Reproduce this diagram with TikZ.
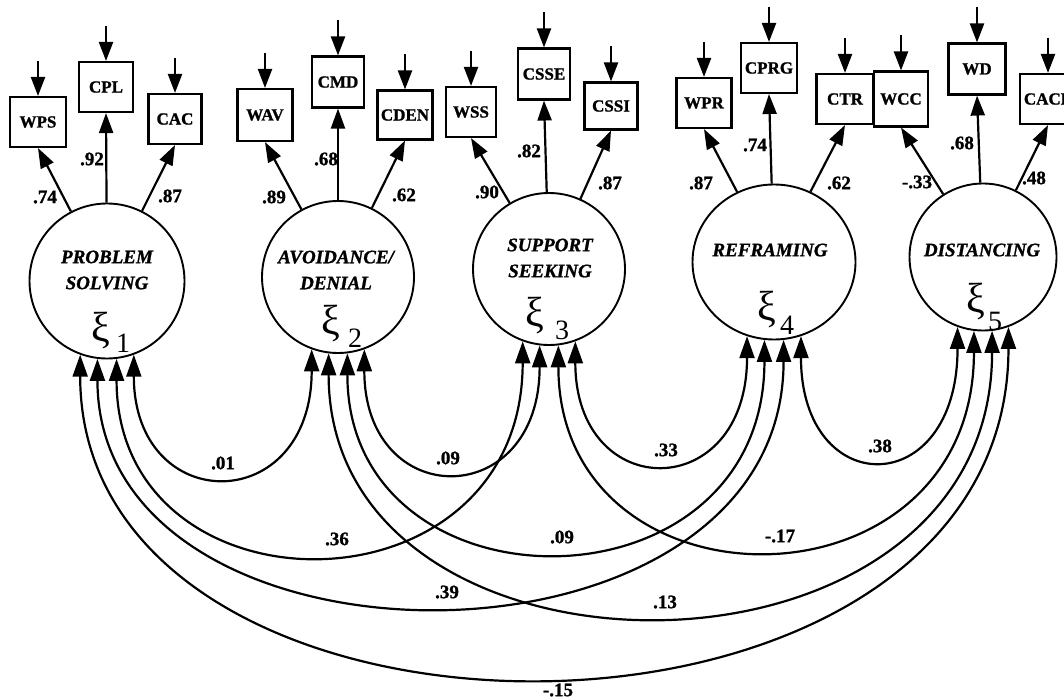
\documentclass[tikz,border=0pt]{standalone}
\usepackage{fontspec}
\setmainfont{Liberation Serif}[BoldFeatures={FakeBold=1.2},BoldItalicFeatures={FakeBold=1.2}]
\usetikzlibrary{arrows.meta,shapes.geometric,calc}
\begin{document}
\begin{tikzpicture}[x=1pt,y=-1pt,
  lat/.style={draw,ellipse,line width=1.9pt,inner sep=0pt},
  obs/.style={draw,rectangle,line width=2.1pt,inner sep=0pt,minimum width=54pt,minimum height=50pt,font=\fontsize{17}{18}\selectfont\bfseries},
  load/.style={line width=2.2pt,-{Triangle[length=20pt,width=14pt]}},
  err/.style={line width=2.2pt,-{Triangle[length=19pt,width=14pt]}},
  cov/.style={line width=2.2pt,{Triangle[length=22pt,width=15pt]}-{Triangle[length=22pt,width=15pt]}},
  num/.style={font=\fontsize{19}{20}\selectfont\bfseries,inner sep=0pt},
  latlab/.style={font=\fontsize{19}{26}\selectfont\bfseries\itshape,align=center,inner sep=0pt},
  xisym/.style={font=\fontsize{42}{44}\selectfont,inner sep=0pt},
  xisub/.style={font=\fontsize{28}{30}\selectfont,inner sep=0pt}]
\useasboundingbox (0,0) rectangle (1064,700);
\clip (0,0) rectangle (1064,700);

% latent variables
\node[lat,minimum width=155pt,minimum height=155pt] (c1) at (107,281) {};
\node[lat,minimum width=152pt,minimum height=152pt] (c2) at (338,277) {};
\node[lat,minimum width=152pt,minimum height=152pt] (c3) at (549,269) {};
\node[lat,minimum width=163pt,minimum height=155pt] (c4) at (774,262) {};
\node[lat,minimum width=147pt,minimum height=147pt] (c5) at (983,257) {};

\node[latlab] (t1) at (107,270) {PROBLEM\\SOLVING};
\node[latlab] (t2) at (336,270) {AVOIDANCE/\\DENIAL};
\node[latlab] (t3) at (550,258) {SUPPORT\\SEEKING};
\node[latlab] (t4) at (770,250) {REFRAMING};
\node[latlab] (t5) at (982,250) {DISTANCING};

\node[xisym] (x1) at (101,331) {ξ};
\node[xisub] (s1) at (123,343) {1};
\node[xisym] (x2) at (331,324) {ξ};
\node[xisub] (s2) at (355,338) {2};
\node[xisym] (x3) at (535,316) {ξ};
\node[xisub] (s3) at (562,330) {3};
\node[xisym] (x4) at (767,310) {ξ};
\node[xisub] (s4) at (787,325) {4};
\node[xisym] (x5) at (976,302) {ξ};
\node[xisub] (s5) at (995,321) {5};

% observed variables
\node[obs,minimum width=56pt] (wps) at (38,122) {WPS};
\node[obs] (cpl) at (106,87) {CPL};
\node[obs,minimum width=53pt] (cac) at (175,119) {CAC};
\node[obs,minimum width=55pt,minimum height=52pt] (wav) at (265,115) {WAV};
\node[obs,minimum width=52pt,minimum height=51pt] (cmd) at (338,82) {CMD};
\node[obs,minimum width=55pt,minimum height=49pt] (cden) at (405,115) {CDEN};
\node[obs,minimum width=50pt] (wss) at (471,112) {WSS};
\node[obs,minimum width=52pt,minimum height=51pt] (csse) at (544,74) {CSSE};
\node[obs,minimum width=53pt,minimum height=47pt] (cssi) at (611,106) {CSSI};
\node[obs,minimum width=55pt] (wpr) at (704,103) {WPR};
\node[obs,minimum width=56pt] (cprg) at (769,68) {CPRG};
\node[obs,minimum width=57pt] (ctr) at (845,99) {CTR};
\node[obs,minimum width=54pt,minimum height=55pt] (wcc) at (901,99) {WCC};
\node[obs,minimum width=57pt,minimum height=51pt] (wd) at (977,69) {WD};
\node[obs,minimum width=56pt] (cace) at (1048,99) {CACE};

% error arrows
\foreach \b in {wps,cpl,cac,wav,cmd,cden,wss,csse,cssi,wpr,cprg,ctr,wcc,wd,cace}{
  \coordinate (e-\b) at ($(\b.north)+(0,-35)$);
  \draw[err] (e-\b) -- (\b.north);
}

% loadings
\draw[load] (c1) -- (wps.south);
\draw[load] (c1) -- (cpl.south);
\draw[load] (c1) -- (cac.south);
\draw[load] (c2) -- (wav.south);
\draw[load] (c2) -- (cmd.south);
\draw[load] (c2) -- (cden.south);
\draw[load] (c3) -- (wss.south);
\draw[load] (c3) -- (csse.south);
\draw[load] (c3) -- (cssi.south);
\draw[load] (c4) -- (wpr.south);
\draw[load] (c4) -- (cprg.south);
\draw[load] (c4) -- (ctr.south);
\draw[load] (c5) -- (wcc.south);
\draw[load] (c5) -- (wd.south);
\draw[load] (c5) -- (cace.south);

\node[num] (l1) at (45,197) {.74};
\node[num] (l2) at (92,159) {.92};
\node[num] (l3) at (170,196) {.87};
\node[num] (l4) at (274,197) {.89};
\node[num] (l5) at (326,159) {.68};
\node[num] (l6) at (404,195) {.62};
\node[num] (l7) at (487,192) {.90};
\node[num] (l8) at (529,151) {.82};
\node[num] (l9) at (610,183) {.87};
\node[num] (l10) at (701,183) {.87};
\node[num] (l11) at (755,145) {.74};
\node[num] (l12) at (839,183) {.62};
\node[num] (l13) at (917,182) {-.33};
\node[num] (l14) at (962,143) {.68};
\node[num] (l15) at (1034,178) {.48};

% covariances
\draw[cov] (c1.-70) .. controls +(0,162.5) and +(0,167.9) .. (c2.-110);
\draw[cov] (c2.-70) .. controls +(0,162.8) and +(0,166.7) .. (c3.-97);
\draw[cov] (c3.-70) .. controls +(0,162.9) and +(0,168) .. (c4.-110);
\draw[cov] (c4.-70) .. controls +(0,165.1) and +(0,174.4) .. (c5.-110);
\draw[cov] (c1.-83) .. controls +(0,262.9) and +(0,280.5) .. (c3.-110);
\draw[cov] (c2.-83) .. controls +(0,265.6) and +(0,279.1) .. (c4.-97);
\draw[cov] (c3.-83) .. controls +(0,273.8) and +(0,288.3) .. (c5.-97);
\draw[cov] (c1.-97) .. controls +(0,331.2) and +(0,350.2) .. (c4.-83);
\draw[cov] (c2.-97) .. controls +(0,352.4) and +(0,374.9) .. (c5.-83);
\draw[cov] (c1.-110) .. controls +(0,432.9) and +(0,460.7) .. (c5.-70);

\node[num] (k1) at (223,463) {.01};
\node[num] (k2) at (448,458) {.09};
\node[num] (k3) at (666,450) {.33};
\node[num] (k4) at (880,446) {.38};
\node[num] (k5) at (337,539) {.36};
\node[num] (k6) at (562,537) {.09};
\node[num] (k7) at (780,536) {-.17};
\node[num] (k8) at (447,592) {.39};
\node[num] (k9) at (665,602) {.13};
\node[num] (k10) at (558,690) {-.15};
\end{tikzpicture}
\end{document}
